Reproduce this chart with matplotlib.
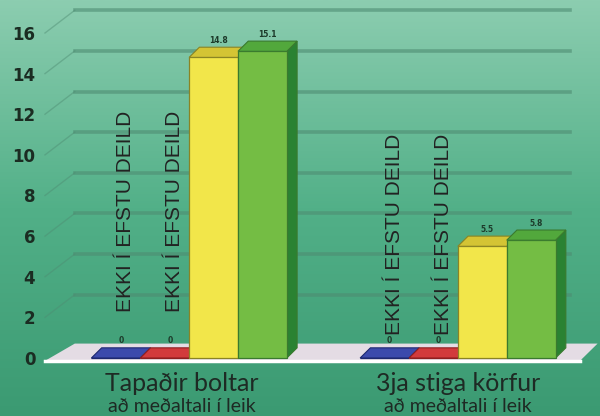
import numpy as np
import matplotlib as mpl
mpl.use('Agg')
import matplotlib.pyplot as plt
from matplotlib.patches import Polygon, Rectangle
from matplotlib.colors import LinearSegmentedColormap
from matplotlib.transforms import blended_transform_factory

# two stat groups, four teams each (first two not in the top league)
categories = ["Tapaðir boltar", "3ja stiga körfur"]
subtitle = "að meðaltali í leik"
group_x = [0.0, 5.5]
values = [[0, 0, 14.8, 15.1],
          [0, 0, 5.5, 5.8]]
value_labels = [["0", "0", "14.8", "15.1"],
                ["0", "0", "5.5", "5.8"]]
missing_note = "EKKI Í EFSTU DEILD"
yticks = list(range(0, 17, 2))

front_cols = ["#2b3590", "#c0282c", "#f2e64a", "#74bd44"]
top_cols = ["#3c4aac", "#d23a3c", "#d4c434", "#52a83c"]
side_cols = ["#1e2870", "#8e1e20", "#b8a82c", "#2a8232"]
edge_cols = ["#1e2870", "#8e1e20", "#8a8424", "#3a7a2e"]

DX, DY = 0.21, 0.5          # bar depth
WX, WY = 0.61, 1.12         # back wall offset
XMIN, XMAX = -1.45, 9.5

fig = plt.figure(figsize=(6, 4.16), dpi=100)

# background gradient
bg = fig.add_axes([0, 0, 1, 1], zorder=-1)
grad = LinearSegmentedColormap.from_list("bg", ["#3b9a72", "#52b088", "#8ccdb0"])
bg.imshow(np.linspace(0, 1, 256).reshape(-1, 1), aspect="auto", cmap=grad,
          origin="lower", extent=[0, 1, 0, 1])
bg.axis("off")

ax = fig.add_axes([45 / 600, 58 / 416, 535 / 600, 325 / 416])
ax.set_facecolor("none")
ax.set_xlim(XMIN, XMAX)
ax.set_ylim(0, 16)
for s in ax.spines.values():
    s.set_visible(False)
ax.set_xticks([])
ax.set_yticks(yticks)
ax.set_yticklabels([str(t) for t in yticks], fontsize=12, fontweight="bold",
                   color="#1b2c22")
ax.tick_params(axis="y", length=0, pad=7)

# back wall grid
for t in yticks[1:]:
    ax.plot([XMIN + WX, 9.3], [t + WY, t + WY], color="#4e8c72", lw=2.6,
            alpha=0.6, clip_on=False, zorder=1)
    ax.plot([XMIN, XMIN + WX], [t, t + WY], color="#4e8c72", lw=1.0,
            alpha=0.45, clip_on=False, zorder=1)

# floor
fy = -0.14
floor = Polygon([(XMIN, fy), (XMAX, fy), (9.86, fy + 0.85), (XMIN + WX, fy + 0.85)],
                closed=True, facecolor="#e4dce4", edgecolor="none",
                clip_on=False, zorder=2)
ax.add_patch(floor)
ax.plot([XMIN, XMAX], [fy, fy], color="white", lw=2.5, clip_on=False, zorder=3)

# 3d bars
z = 4
for g, gx in enumerate(group_x):
    for i, h in enumerate(values[g]):
        x0 = gx + i - 0.5
        x1 = x0 + 1
        ax.add_patch(Polygon([(x1, 0), (x1 + DX, DY), (x1 + DX, h + DY), (x1, h)],
                             facecolor=side_cols[i], edgecolor=edge_cols[i],
                             lw=0.8, clip_on=False, zorder=z))
        ax.add_patch(Rectangle((x0, 0), 1, h, facecolor=front_cols[i],
                               edgecolor=edge_cols[i], lw=0.9, clip_on=False,
                               zorder=z + 0.1))
        ax.add_patch(Polygon([(x0, h), (x1, h), (x1 + DX, h + DY), (x0 + DX, h + DY)],
                             facecolor=top_cols[i], edgecolor=edge_cols[i],
                             lw=0.8, clip_on=False, zorder=z + 0.2))
        ax.text(gx + i + DX / 2, h + DY + 0.12, value_labels[g][i], fontsize=5.5,
                fontweight="bold", color="#1d3a2a", ha="center", va="bottom",
                zorder=z + 0.3)
        z += 1

# notes for teams without data
note_y = [2.27, 1.13]
for g, gx in enumerate(group_x):
    for i in range(2):
        ax.text(gx + i + 0.2, note_y[g], missing_note, rotation=90,
                fontsize=15, family="Liberation Sans", color="#222222",
                ha="center", va="bottom", zorder=20)

# category labels
tr = blended_transform_factory(ax.transData, fig.transFigure)
label_x = [1.35, 5.5 + 1.5]
for cx, name in zip(label_x, categories):
    ax.text(cx, 1 - 391 / 416, name, transform=tr, fontsize=18,
            family="Lato", color="#1e2a24", ha="center", va="baseline")
    ax.text(cx, 1 - 412 / 416, subtitle, transform=tr, fontsize=14,
            family="Lato", color="#1e2a24", ha="center", va="baseline")

fig.savefig("out.png", dpi=100)
